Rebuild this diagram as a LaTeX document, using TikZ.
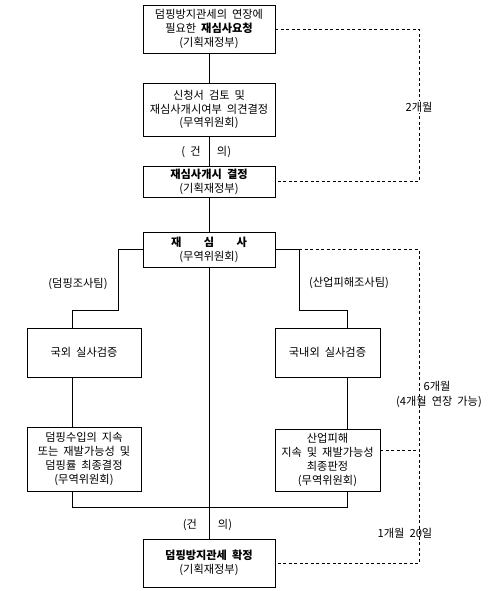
\documentclass[tikz,border=0pt]{standalone}
\usepackage{fontspec}
\setmainfont[WordSpace=2]{Noto Sans CJK KR}
\tikzset{
  stage/.style={draw, rectangle, line width=0.8pt, align=center, inner sep=1.5pt, font=\fontsize{11.2}{13.8}\selectfont},
  note/.style={inner sep=1pt, font=\fontsize{11.2}{13.8}\selectfont},
  period/.style={line width=0.8pt, dash pattern=on 3pt off 2.5pt},
}
\begin{document}
\begin{tikzpicture}[x=1pt, y=-1pt, line width=0.8pt]
\useasboundingbox (0,0) rectangle (489,591);

% 재심사 요청 및 개시
\node[stage, minimum width=132pt, minimum height=48pt] (request) at (209,29) {덤핑방지관세의 연장에\\필요한 \textbf{재심사요청}\\(기획재정부)};
\node[stage, minimum width=132pt, minimum height=53pt] (review) at (209,109.5) {신청서 검토 및\\재심사개시여부 의견결정\\(무역위원회)};
\node[stage, minimum width=132pt, minimum height=31pt] (start) at (209,181.5) {\textbf{재심사개시 결정}\\(기획재정부)};
\node[stage, minimum width=132pt, minimum height=35pt] (probe) at (209,249.5) {\textbf{재\hspace{2em}심\hspace{2em}사}\\(무역위원회)};

% 조사팀
\node[stage, minimum width=114pt, minimum height=49pt] (abroad) at (84,352.5) {국외 실사검증};
\node[stage, minimum width=114pt, minimum height=64pt] (dumpfinal) at (84,459) {덤핑수입의 지속\\또는 재발가능성 및\\덤핑률 최종결정\\(무역위원회)};
\node[stage, minimum width=105pt, minimum height=49pt] (onsite) at (327.5,352.5) {국내외 실사검증};
\node[stage, minimum width=105pt, minimum height=62pt] (harmfinal) at (327.5,460) {산업피해\\지속 및 재발가능성\\최종판정\\(무역위원회)};

% 확정
\node[stage, minimum width=132pt, minimum height=48pt] (confirm) at (209,563) {\textbf{덤핑방지관세 확정}\\(기획재정부)};

% 꺾임점
\coordinate (lx) at (72,0);
\coordinate (ljog) at (118,310);
\coordinate (rx) at (347,0);
\coordinate (rjog) at (299,310);
\coordinate (merge) at (0,507);
\coordinate (dx) at (419,0);
\coordinate (dmid) at (419,450);

% 연결선
\draw (request) -- (review);
\draw (review) -- (start);
\draw (start) -- (probe);
\draw (probe) -- (confirm);
\draw (probe.west) -| (ljog) -| (abroad.north -| lx);
\draw (abroad.south -| lx) -- (dumpfinal.north -| lx);
\draw (probe.east) -| (rjog) -| (onsite.north -| rx);
\draw (onsite.south -| rx) -- (harmfinal.north -| rx);
\draw (dumpfinal.south -| lx) -- (lx |- merge) -- (rx |- merge) -- (harmfinal.south -| rx);

% 기간
\draw[period] (request.east) -| (dx |- start.east) -- (start.east);
\draw[period] (probe.east -| rjog) -- (dx |- probe.east) -- (dx |- confirm.east) -- (confirm.east);
\draw[period] (harmfinal.east |- dmid) -- (dmid);

% 설명
\node[note] (dumpteam) at (78,284) {(덤핑조사팀)};
\node[note] (harmteam) at (349,283) {(산업피해조사팀)};
\node[note] (adviseAl) at (191,152) {( 건};
\node[note] (adviseAr) at (224,152) {의)};
\node[note] (adviseBl) at (190,525) {(건};
\node[note] (adviseBr) at (225,525) {의)};
\node[note, fill=white] (twomonth) at (419,107) {2개월};
\node[note] (sixmonth) at (437,386) {6개월};
\node[note] (extend) at (439,402) {(4개월 연장 가능)};
\node[note] (finalterm) at (405,533) {1개월 20일};

\end{tikzpicture}
\end{document}
